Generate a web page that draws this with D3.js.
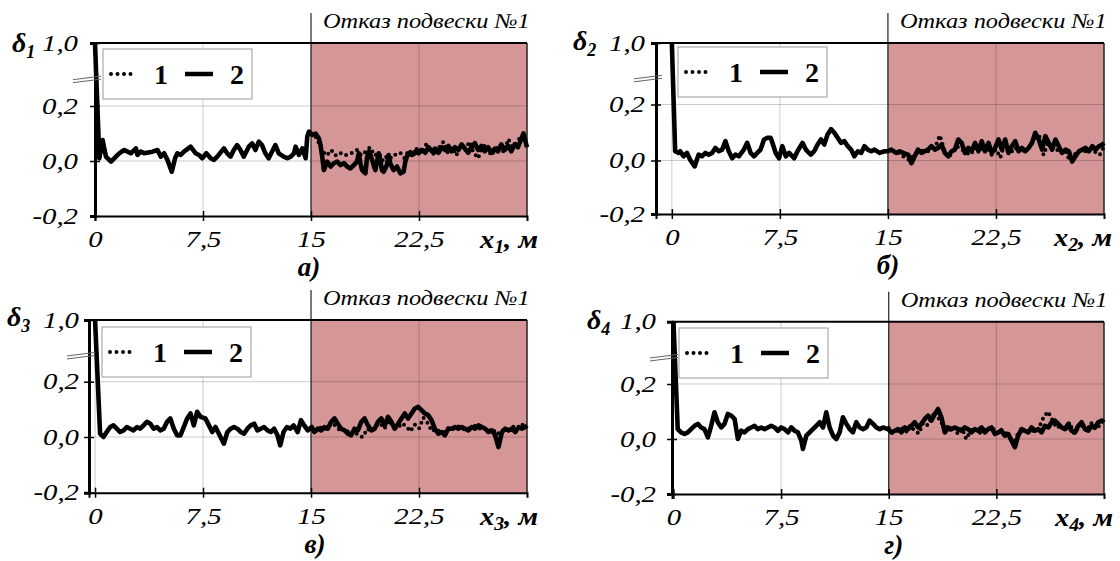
<!DOCTYPE html>
<html><head><meta charset="utf-8">
<script src="https://cdn.jsdelivr.net/npm/d3@7"></script>
<style>
body{margin:0;background:#fff}
svg{display:block}
text{font-family:"Liberation Serif","Times New Roman",serif;fill:#000}
</style>
</head><body>
<svg id="chart" width="1120" height="561"></svg>
<script>
// ---------- data ----------
const xTicks = [0, 7.5, 15, 22.5];
const xTickLabels = ["0", "7,5", "15", "22,5"];
const yTicks = [1.0, 0.2, 0.0, -0.2];
const yTickLabels = ["1,0", "0,2", "0,0", "-0,2"];
const failureX = 15;
const failureLabel = "Отказ подвески №1";
const legendLabels = ["1", "2"];
const panelCaptions = ["а)", "б)", "в)", "г)"];
const panelIndex = ["1", "2", "3", "4"];

// series 2 (solid) and series 1 (dotted, differs after failure) per panel: [x, δ]
const a2 = [[0,1.0],[0.3,0.01],[0.53,0.076],[0.76,0.016],[1.11,-0.002],[1.68,0.028],[2.03,0.04],[2.26,0.034],[2.49,0.028],[2.84,0.046],[2.95,0.022],[3.18,0.034],[3.41,0.028],[3.99,0.034],[4.34,0.04],[4.57,0.016],[4.8,0.028],[5.03,0.004],[5.33,-0.039],[5.56,0.01],[5.72,0.028],[5.95,0.022],[6.18,0.034],[6.64,0.052],[6.99,0.028],[7.22,0.022],[7.45,0.01],[7.73,0.028],[8.03,0.01],[8.26,0.004],[8.49,0.016],[8.95,0.046],[9.18,0.028],[9.41,0.016],[9.64,0.04],[9.87,0.058],[10.1,0.04],[10.33,0.016],[10.68,0.052],[10.91,0.064],[11.14,0.04],[11.37,0.07],[11.6,0.058],[11.83,0.028],[12.06,0.01],[12.53,0.058],[12.76,0.028],[13.1,0.016],[13.36,0.01],[13.59,0.016],[13.82,0.028],[13.93,0.052],[14.16,0.022],[14.4,0.046],[14.63,0.01],[14.74,0.088],[14.86,0.107],[15.09,0.095],[15.32,0.1],[15.55,0.082],[15.66,0.058],[15.78,0.016],[15.89,-0.033],[16.12,-0.002],[16.36,-0.02],[16.59,-0.008],[16.82,-0.002],[17.05,-0.015],[17.28,-0.008],[17.51,-0.02],[17.74,-0.027],[17.97,-0.015],[18.2,-0.002],[18.32,0.028],[18.43,-0.008],[18.55,-0.033],[18.78,-0.045],[18.9,0.016],[19.01,0.034],[19.13,0.022],[19.24,0.004],[19.35,-0.015],[19.47,-0.033],[19.7,0.028],[19.81,0.004],[19.93,-0.033],[20.04,-0.039],[20.27,-0.015],[20.39,0.022],[20.5,-0.008],[20.73,-0.033],[20.97,-0.02],[21.2,-0.045],[21.43,-0.039],[21.55,-0.002],[21.66,0.016],[21.78,0.028],[22.0,0.022],[22.24,0.034],[22.47,0.028],[22.7,0.04],[22.93,0.03],[23.16,0.05],[23.39,0.035],[23.62,0.045],[23.85,0.03],[24.08,0.05],[24.31,0.04],[24.54,0.055],[24.77,0.035],[25.0,0.05],[25.23,0.04],[25.46,0.06],[25.69,0.045],[25.92,0.03],[26.15,0.05],[26.38,0.065],[26.61,0.04],[26.84,0.055],[27.07,0.035],[27.3,0.05],[27.53,0.03],[27.76,0.045],[27.99,0.035],[28.22,0.06],[28.45,0.04],[28.68,0.055],[28.91,0.035],[29.14,0.06],[29.37,0.05],[29.6,0.08],[29.75,0.1],[29.9,0.07],[30,0.05]];
const a1 = [[15.0,0.1],[15.3,0.09],[15.6,0.06],[15.9,0.03],[16.1,0.02],[16.4,0.04],[16.7,0.02],[17.0,0.03],[17.3,0.02],[17.6,0.025],[17.9,0.03],[18.2,0.04],[18.5,0.02],[18.8,0.035],[19.1,0.05],[19.4,0.02],[19.7,0.03],[20.0,0.0],[20.3,0.02],[20.6,0.01],[20.9,0.025],[21.2,0.03],[21.5,0.01],[21.8,0.04],[22.1,0.02],[22.4,0.05],[22.7,0.03],[23.0,0.06],[23.3,0.04],[23.6,0.02],[23.9,0.05],[24.2,0.07],[24.5,0.03],[24.8,0.05],[25.1,0.02],[25.4,0.06],[25.7,0.04],[26.0,0.07],[26.3,0.03],[26.6,0.01],[26.9,0.05],[27.2,0.06],[27.5,0.02],[27.8,0.04],[28.1,0.06],[28.4,0.03],[28.7,0.08],[29.0,0.05],[29.3,0.07],[29.6,0.09],[30,0.06]];

const b2 = [[0,1.0],[0.23,0.033],[0.47,0.027],[0.58,0.033],[0.81,0.015],[1.05,0.027],[1.28,0.002],[1.58,-0.022],[1.86,0.021],[2.09,0.015],[2.33,0.027],[2.56,0.021],[2.79,0.027],[3.02,0.045],[3.26,0.033],[3.49,0.039],[3.72,0.069],[3.95,0.033],[4.19,0.008],[4.42,0.021],[4.65,0.015],[5.0,0.039],[5.23,0.063],[5.47,0.027],[5.7,0.015],[5.93,0.027],[6.16,0.039],[6.4,0.075],[6.63,0.081],[6.86,0.081],[6.98,0.063],[7.21,0.027],[7.44,0.008],[7.67,0.051],[7.91,0.015],[8.14,0.027],[8.49,0.008],[8.72,0.033],[9.07,0.063],[9.3,0.039],[9.65,0.021],[9.88,0.033],[10.12,0.057],[10.35,0.075],[10.58,0.057],[10.81,0.093],[11.05,0.112],[11.28,0.099],[11.51,0.081],[11.74,0.063],[11.98,0.069],[12.21,0.051],[12.44,0.039],[12.67,0.015],[12.91,0.033],[13.14,0.027],[13.37,0.051],[13.6,0.039],[13.84,0.033],[14.07,0.039],[14.42,0.027],[14.77,0.033],[15.0,0.033],[15.23,0.039],[15.58,0.027],[15.81,0.033],[16.05,0.027],[16.4,0.021],[16.63,-0.01],[16.86,0.015],[17.09,0.039],[17.33,0.027],[17.56,0.033],[17.79,0.039],[18.02,0.051],[18.26,0.039],[18.49,0.045],[18.72,0.057],[18.95,0.027],[19.19,0.015],[19.42,0.033],[19.65,0.039],[19.88,0.075],[20.12,0.063],[20.35,0.027],[20.58,0.045],[20.81,0.033],[21.05,0.063],[21.28,0.033],[21.51,0.069],[21.74,0.033],[21.98,0.063],[22.21,0.027],[22.44,0.045],[22.67,0.075],[22.91,0.039],[23.14,0.075],[23.37,0.027],[23.6,0.051],[23.84,0.069],[24.07,0.033],[24.3,0.045],[24.53,0.033],[24.77,0.045],[25.0,0.063],[25.23,0.099],[25.47,0.075],[25.7,0.039],[25.93,0.087],[26.16,0.063],[26.4,0.039],[26.63,0.075],[26.86,0.051],[27.09,0.027],[27.33,0.039],[27.56,0.033],[27.79,-0.004],[28.02,0.015],[28.26,0.033],[28.49,0.039],[28.72,0.045],[28.95,0.033],[29.19,0.051],[29.42,0.039],[29.65,0.051],[29.88,0.057],[30,0.063]];
const b1 = [[15.0,0.033],[15.3,0.03],[15.6,0.035],[15.9,0.02],[16.2,0.01],[16.5,0.0],[16.8,0.02],[17.1,0.03],[17.4,0.035],[17.7,0.03],[18.0,0.04],[18.3,0.05],[18.6,0.09],[18.9,0.04],[19.2,0.01],[19.5,0.03],[19.8,0.05],[20.1,0.04],[20.4,0.03],[20.7,0.02],[21.0,0.04],[21.3,0.05],[21.6,0.03],[21.9,0.045],[22.2,0.02],[22.5,0.04],[22.8,0.01],[23.1,0.06],[23.4,0.04],[23.7,0.03],[24.0,0.05],[24.3,0.03],[24.6,0.04],[24.9,0.05],[25.2,0.08],[25.5,0.09],[25.8,0.02],[26.1,0.06],[26.4,0.05],[26.7,0.04],[27.0,0.03],[27.3,0.04],[27.6,0.0],[27.9,0.02],[28.2,0.03],[28.5,0.04],[28.8,0.03],[29.1,0.04],[29.4,0.03],[29.7,0.02],[30,0.05]];

const c2 = [[0,1.0],[0.35,0.012],[0.58,0.0],[0.81,0.018],[1.05,0.036],[1.28,0.042],[1.51,0.03],[1.74,0.018],[1.98,0.024],[2.21,0.036],[2.44,0.03],[2.67,0.024],[2.91,0.036],[3.14,0.03],[3.37,0.042],[3.6,0.055],[3.84,0.048],[4.07,0.03],[4.3,0.036],[4.53,0.024],[4.77,0.03],[5.0,0.055],[5.23,0.067],[5.47,0.03],[5.7,0.006],[5.93,0.006],[6.16,0.036],[6.4,0.067],[6.63,0.085],[6.86,0.042],[7.09,0.091],[7.33,0.073],[7.67,0.067],[7.91,0.042],[8.14,0.018],[8.37,0.036],[8.6,0.012],[8.95,-0.024],[9.19,0.018],[9.42,0.03],[9.65,0.036],[9.88,0.03],[10.12,0.018],[10.35,0.012],[10.58,0.03],[10.81,0.042],[11.05,0.048],[11.28,0.024],[11.51,0.03],[11.74,0.036],[11.98,0.024],[12.21,0.018],[12.44,0.03],[12.67,0.006],[12.86,-0.03],[13.09,0.018],[13.33,0.036],[13.56,0.03],[13.79,0.042],[14.07,0.018],[14.3,0.061],[14.53,0.042],[14.77,0.024],[15.05,0.036],[15.23,0.018],[15.47,0.03],[15.7,0.024],[15.93,0.036],[16.16,0.03],[16.4,0.055],[16.63,0.067],[16.86,0.048],[17.09,0.03],[17.33,0.024],[17.56,0.012],[17.79,0.006],[18.02,0.03],[18.26,0.024],[18.49,0.055],[18.72,0.067],[18.95,0.042],[19.19,0.024],[19.42,0.03],[19.65,0.055],[19.88,0.067],[20.12,0.042],[20.35,0.073],[20.58,0.055],[20.81,0.03],[21.05,0.048],[21.28,0.067],[21.51,0.085],[21.74,0.067],[21.98,0.085],[22.21,0.103],[22.44,0.109],[22.67,0.097],[22.91,0.085],[23.14,0.079],[23.37,0.061],[23.6,0.03],[23.84,0.012],[24.07,0.018],[24.3,0.006],[24.53,0.03],[24.77,0.03],[25.0,0.036],[25.23,0.03],[25.47,0.036],[25.7,0.03],[25.93,0.024],[26.16,0.036],[26.4,0.03],[26.63,0.042],[26.86,0.036],[27.09,0.03],[27.33,0.018],[27.56,0.024],[27.79,0.006],[28.02,-0.036],[28.26,0.018],[28.49,0.03],[28.72,0.024],[28.95,0.03],[29.19,0.018],[29.42,0.036],[29.65,0.03],[29.88,0.036],[30,0.042]];
const c1 = [[15.0,0.03],[15.3,0.02],[15.6,0.035],[15.9,0.025],[16.2,0.04],[16.5,0.05],[16.8,0.035],[17.1,0.02],[17.4,0.03],[17.7,0.01],[18.0,0.02],[18.3,0.005],[18.6,0.0],[18.9,0.03],[19.2,0.02],[19.5,0.04],[19.8,0.05],[20.1,0.03],[20.4,0.06],[20.7,0.04],[21.0,0.03],[21.3,0.05],[21.6,0.04],[21.9,0.02],[22.2,0.045],[22.5,0.03],[22.8,0.07],[23.1,0.05],[23.4,0.02],[23.7,0.03],[24.0,0.015],[24.3,0.02],[24.6,0.035],[24.9,0.03],[25.2,0.04],[25.5,0.03],[25.8,0.025],[26.1,0.035],[26.4,0.04],[26.7,0.03],[27.0,0.035],[27.3,0.02],[27.6,0.03],[27.9,0.01],[28.2,0.02],[28.5,0.03],[28.8,0.025],[29.1,0.04],[29.4,0.03],[29.7,0.045],[30,0.04]];

const d2 = [[0,1.0],[0.3,0.036],[0.53,0.024],[0.77,0.018],[1.0,0.024],[1.23,0.036],[1.47,0.048],[1.7,0.055],[1.93,0.042],[2.16,0.036],[2.4,0.006],[2.63,0.048],[2.86,0.097],[3.09,0.061],[3.33,0.042],[3.56,0.055],[3.79,0.091],[4.02,0.085],[4.26,0.073],[4.49,0.0],[4.72,0.03],[4.95,0.024],[5.19,0.036],[5.42,0.042],[5.65,0.048],[5.88,0.036],[6.12,0.042],[6.35,0.036],[6.58,0.042],[6.81,0.048],[7.05,0.042],[7.28,0.03],[7.51,0.042],[7.74,0.036],[7.98,0.024],[8.21,0.042],[8.44,0.03],[8.67,0.024],[8.91,-0.006],[9.02,-0.036],[9.26,0.012],[9.49,0.024],[9.72,0.036],[9.95,0.048],[10.19,0.061],[10.42,0.042],[10.65,0.097],[10.88,0.042],[11.12,0.012],[11.35,0.0],[11.58,0.024],[11.81,0.079],[12.05,0.055],[12.28,0.036],[12.51,0.024],[12.74,0.061],[12.98,0.042],[13.21,0.036],[13.44,0.042],[13.67,0.067],[13.91,0.055],[14.14,0.042],[14.37,0.036],[14.6,0.042],[14.95,0.036],[15.19,0.024],[15.42,0.03],[15.65,0.036],[15.88,0.024],[16.12,0.042],[16.35,0.036],[16.58,0.048],[16.81,0.061],[17.05,0.042],[17.28,0.055],[17.51,0.073],[17.74,0.085],[17.98,0.067],[18.21,0.091],[18.44,0.109],[18.67,0.079],[18.91,0.024],[19.14,0.042],[19.37,0.036],[19.6,0.042],[19.84,0.036],[20.07,0.03],[20.3,0.042],[20.53,0.036],[20.77,0.024],[21.0,0.036],[21.23,0.03],[21.47,0.042],[21.7,0.024],[21.93,0.036],[22.16,0.042],[22.4,0.018],[22.63,0.024],[22.86,0.03],[23.09,0.012],[23.33,0.018],[23.56,-0.006],[23.79,-0.03],[24.02,0.012],[24.26,0.036],[24.49,0.03],[24.72,0.024],[24.95,0.042],[25.19,0.03],[25.42,0.036],[25.65,0.024],[25.88,0.048],[26.12,0.042],[26.35,0.061],[26.58,0.067],[26.81,0.055],[27.05,0.042],[27.28,0.036],[27.51,0.055],[27.74,0.03],[27.98,0.024],[28.21,0.048],[28.44,0.061],[28.67,0.036],[28.91,0.03],[29.14,0.048],[29.37,0.042],[29.6,0.061],[29.84,0.067],[30,0.06]];
const d1 = [[15.0,0.04],[15.3,0.02],[15.6,0.03],[15.9,0.04],[16.2,0.025],[16.5,0.05],[16.8,0.03],[17.1,0.02],[17.4,0.06],[17.7,0.05],[18.0,0.08],[18.3,0.1],[18.6,0.06],[18.9,0.05],[19.2,0.03],[19.5,0.045],[19.8,0.02],[20.1,0.04],[20.4,0.0],[20.7,0.03],[21.0,0.04],[21.3,0.02],[21.6,0.035],[21.9,0.03],[22.2,0.045],[22.5,0.02],[22.8,0.035],[23.1,0.025],[23.4,0.01],[23.7,-0.02],[24.0,0.02],[24.3,0.04],[24.6,0.02],[24.9,0.035],[25.2,0.025],[25.5,0.045],[25.8,0.08],[26.1,0.1],[26.4,0.07],[26.7,0.04],[27.0,0.05],[27.3,0.03],[27.6,0.06],[27.9,0.02],[28.2,0.04],[28.5,0.05],[28.8,0.03],[29.1,0.06],[29.4,0.035],[29.7,0.05],[30,0.055]];

const solidSeries = [a2, b2, c2, d2];
const dottedSeries = [a1, b1, c1, d1];

// ---------- layout (pixels) ----------
const panels = [
  {xmin:0,    left:95,  right:527,  yr:[216,161,106,43],        tickPad:12, legend:[103,49], deltaX:12,  deltaDy:9, labelEnd:538, capDx:-2},
  {xmin:-1.1, left:656, right:1104, yr:[214,160.5,104.5,43],    tickPad:6,  legend:[678,47], deltaX:573, deltaDy:7, labelEnd:1112, capDx:0},
  {xmin:-0.42,left:89,  right:527,  yr:[492.7,437,381.7,320],   tickPad:5,  legend:[102,327],deltaX:7,   deltaDy:6, labelEnd:538, capDx:4},
  {xmin:-0.1, left:672, right:1104, yr:[494,439,384,321.7],     tickPad:11, legend:[679,328],deltaX:587, deltaDy:7, labelEnd:1113, capDx:5}
];
const shadeColor = "#D49696";
const tickStretch = 1.28;

const svg = d3.select("#chart");

function stretchedText(g, x, y, s) {
  return g.append("text").attr("transform", `translate(${x},${y}) scale(${s},1)`);
}

panels.forEach((p, i) => {
  const g = svg.append("g");
  const x = d3.scaleLinear().domain([p.xmin, 30]).range([p.left, p.right]);
  const y = d3.scaleLinear().domain([-0.2, 0, 0.2, 1.0]).range(p.yr);
  const top = y(1.0), bot = y(-0.2);

  // failure zone
  g.append("rect").attr("x", x(failureX)).attr("y", top)
    .attr("width", x(30) - x(failureX)).attr("height", bot - top).attr("fill", shadeColor);

  // grid
  g.selectAll(".vg").data(xTicks.filter(v => x(v) - p.left > 2)).enter().append("line")
    .attr("x1", d => x(d)).attr("x2", d => x(d)).attr("y1", top).attr("y2", bot)
    .attr("stroke", "#000").attr("stroke-opacity", 0.2).attr("stroke-width", 1);
  g.selectAll(".hg").data([0, 0.2]).enter().append("line")
    .attr("x1", p.left).attr("x2", p.right).attr("y1", d => y(d)).attr("y2", d => y(d))
    .attr("stroke", "#000").attr("stroke-opacity", 0.2).attr("stroke-width", 1);

  // failure line and label
  g.append("line").attr("x1", x(failureX)).attr("x2", x(failureX))
    .attr("y1", top - 30).attr("y2", bot).attr("stroke", "#222").attr("stroke-width", 1.2);
  stretchedText(g, x(failureX) + 12, top - 15, 1.16)
    .attr("font-style", "italic").attr("font-size", 21).text(failureLabel);

  // border top/right
  g.append("line").attr("x1", p.left).attr("x2", p.right).attr("y1", top).attr("y2", top)
    .attr("stroke", "#000").attr("stroke-width", 2);
  g.append("line").attr("x1", p.right).attr("x2", p.right).attr("y1", top).attr("y2", bot)
    .attr("stroke", "#222").attr("stroke-width", 1.5);

  // series
  const line = d3.line().x(d => x(d[0])).y(d => y(d[1]));
  g.append("path").datum(dottedSeries[i]).attr("d", line).attr("fill", "none")
    .attr("stroke", "#000").attr("stroke-width", 4).attr("stroke-linecap", "round")
    .attr("stroke-dasharray", "0 6");
  g.append("path").datum(solidSeries[i]).attr("d", line).attr("fill", "none")
    .attr("stroke", "#000").attr("stroke-width", 4.6).attr("stroke-linejoin", "round");

  // axes
  const yAxis = d3.axisLeft(y).tickValues(yTicks).tickSize(5).tickPadding(p.tickPad)
    .tickFormat((d, k) => yTickLabels[k]);
  const ya = g.append("g").attr("transform", `translate(${p.left},0)`).call(yAxis);
  ya.attr("font-family", null).attr("font-size", null);
  ya.select(".domain").attr("stroke-width", 3);
  ya.selectAll(".tick line").attr("x1", 5).attr("stroke-width", 1.5);
  ya.selectAll(".tick text").each(function() {
    const t = d3.select(this);
    const tx = +t.attr("x");
    t.attr("x", tx / tickStretch).attr("transform", `scale(${tickStretch},1)`);
  }).attr("font-size", 22.5).attr("font-style", "italic");

  const xAxis = d3.axisBottom(x).tickValues(xTicks).tickSize(5).tickPadding(10)
    .tickFormat((d, k) => xTickLabels[k]);
  const xa = g.append("g").attr("transform", `translate(0,${bot})`).call(xAxis);
  xa.attr("font-family", null).attr("font-size", null);
  xa.select(".domain").attr("stroke-width", 2);
  xa.selectAll(".tick line").attr("y1", -5).attr("stroke-width", 1.5);
  xa.selectAll(".tick text").attr("transform", `scale(${tickStretch},1)`)
    .attr("font-size", 22.5).attr("font-style", "italic");

  // axis break marks
  const yb = y(0.56);
  [0, 3].forEach(off => {
    g.append("line").attr("x1", p.left - 22).attr("x2", p.left + 6)
      .attr("y1", yb + 2 + off).attr("y2", yb - 1.5 + off)
      .attr("stroke", "#666").attr("stroke-width", 1);
  });

  // legend
  const [lx, ly] = p.legend;
  const lg = g.append("g").attr("transform", `translate(${lx},${ly})`);
  lg.append("rect").attr("width", 149).attr("height", 50).attr("fill", "#fff")
    .attr("stroke", "#999").attr("stroke-width", 1);
  lg.append("line").attr("x1", 8).attr("x2", 30).attr("y1", 25).attr("y2", 25)
    .attr("stroke", "#000").attr("stroke-width", 4).attr("stroke-linecap", "round")
    .attr("stroke-dasharray", "0 6.5");
  lg.append("text").attr("x", 58).attr("y", 35).attr("text-anchor", "middle")
    .attr("font-weight", "bold").attr("font-size", 28).text(legendLabels[0]);
  lg.append("line").attr("x1", 82).attr("x2", 110).attr("y1", 25).attr("y2", 25)
    .attr("stroke", "#000").attr("stroke-width", 4.5);
  lg.append("text").attr("x", 134).attr("y", 35).attr("text-anchor", "middle")
    .attr("font-weight", "bold").attr("font-size", 28).text(legendLabels[1]);

  // y label δi
  const dl = g.append("text").attr("x", p.deltaX).attr("y", top + p.deltaDy)
    .attr("font-weight", "bold").attr("font-style", "italic").attr("font-size", 28);
  dl.append("tspan").text("δ");
  dl.append("tspan").attr("dy", 6).attr("font-size", 18).text(panelIndex[i]);

  // x label xi, м
  const xl = stretchedText(g, p.labelEnd, bot + 32, 1.1).attr("text-anchor", "end")
    .attr("font-weight", "bold").attr("font-style", "italic").attr("font-size", 26);
  xl.append("tspan").text("x");
  xl.append("tspan").attr("dy", 5).attr("font-size", 18).text(panelIndex[i]);
  xl.append("tspan").attr("dy", -5).text(", м");

  // caption
  g.append("text").attr("x", x(failureX) + p.capDx).attr("y", bot + 60).attr("text-anchor", "middle")
    .attr("font-weight", "bold").attr("font-style", "italic").attr("font-size", 27).text(panelCaptions[i]);
});
</script>
</body></html>
